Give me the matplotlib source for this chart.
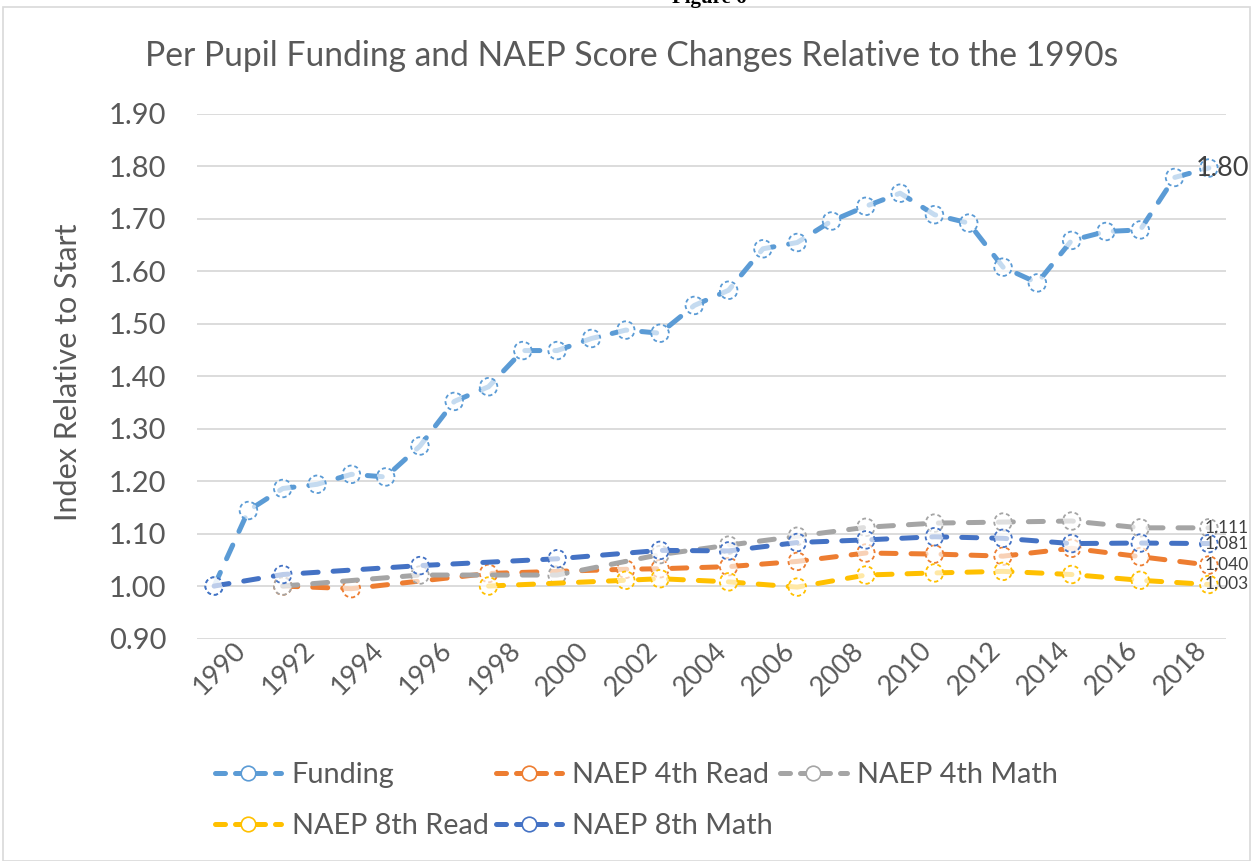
import numpy as np
import matplotlib
matplotlib.use("Agg")
import matplotlib.pyplot as plt
from matplotlib.lines import Line2D
from matplotlib.patches import Rectangle
from matplotlib.transforms import ScaledTranslation

plt.rcParams['font.family'] = ['Lato', 'DejaVu Sans']

# ---------------- data ----------------
years = list(range(1990, 2020))
funding = [1.000, 1.144, 1.186, 1.194, 1.213, 1.208, 1.267, 1.352, 1.380, 1.449,
           1.449, 1.472, 1.488, 1.482, 1.535, 1.564, 1.643, 1.655, 1.696, 1.724,
           1.749, 1.708, 1.692, 1.608, 1.578, 1.659, 1.676, 1.679, 1.779, 1.797]

read4_years = [1992, 1994, 1998, 2002, 2003, 2005, 2007, 2009, 2011, 2013, 2015, 2017, 2019]
read4 = [1.000, 0.995, 1.024, 1.032, 1.033, 1.037, 1.047, 1.063, 1.061, 1.057, 1.072, 1.056, 1.040]

math4_years = [1992, 1996, 2000, 2003, 2005, 2007, 2009, 2011, 2013, 2015, 2017, 2019]
math4 = [1.000, 1.021, 1.021, 1.060, 1.078, 1.095, 1.112, 1.120, 1.122, 1.124, 1.111, 1.111]

read8_years = [1998, 2002, 2003, 2005, 2007, 2009, 2011, 2013, 2015, 2017, 2019]
read8 = [1.000, 1.011, 1.014, 1.008, 0.998, 1.021, 1.025, 1.028, 1.022, 1.011, 1.003]

math8_years = [1990, 1992, 1996, 2000, 2003, 2005, 2007, 2009, 2011, 2013, 2015, 2017, 2019]
math8 = [1.000, 1.022, 1.039, 1.052, 1.068, 1.067, 1.083, 1.088, 1.094, 1.091, 1.081, 1.082, 1.081]

series_names = ["Funding", "NAEP 4th Read", "NAEP 4th Math", "NAEP 8th Read", "NAEP 8th Math"]
series_colors = ["#5B9BD5", "#ED7D31", "#A5A5A5", "#FFC000", "#4472C4"]
label_formats = ["{:.2f}", "{:.3f}", "{:.3f}", "{:.3f}", "{:.3f}"]

title = "Per Pupil Funding and NAEP Score Changes Relative to the 1990s"
caption_top = "Figure 6"
ylabel = "Index Relative to Start"
yticks = [0.90, 1.00, 1.10, 1.20, 1.30, 1.40, 1.50, 1.60, 1.70, 1.80, 1.90]
xtick_years = list(range(1990, 2019, 2))

# ---------------- figure ----------------
W, H = 1253, 861
fig = plt.figure(figsize=(W / 100, H / 100), dpi=100)
ax = fig.add_axes([197 / W, 1 - 638.5 / H, (1226 - 197) / W, (638.5 - 114) / H])

fig.patches.append(Rectangle((3 / W, 0.0), (1250 - 3) / W, 1 - 7 / H, transform=fig.transFigure,
                             fill=False, edgecolor="#d9d9d9", linewidth=1.2))

# caption above the chart, cropped by the top edge as in the source image
fig.text(672 / W, 1 - 3 / H, caption_top, ha='left', va='baseline', fontsize=15,
         fontweight='bold', family=['Liberation Serif', 'DejaVu Serif'], color='black')

all_series = [
    (years, funding),
    (read4_years, read4),
    (math4_years, math4),
    (read8_years, read8),
    (math8_years, math8),
]

text_color = "#595959"
label_sizes = [19.5, 12.5, 12.5, 12.5, 12.5]
label_offsets = [-13, -4, -4, -4, -4]
for i, ((yrs, vals), name, col) in enumerate(zip(all_series, series_names, series_colors)):
    x = np.array(yrs) - years[0]
    z = 3 + i * 2
    ax.plot(x, vals, color=col, lw=3.6, ls=(0, (3, 3)), dash_capstyle='round',
            solid_capstyle='round', zorder=z)
    ax.scatter(x, vals, s=160, facecolors=(1, 1, 1, 0.65), edgecolors=col,
               linewidths=1.3, linestyles=(0, (2.2, 1.6)), zorder=z + 1)
    ax.annotate(label_formats[i].format(vals[-1]), (x[-1], vals[-1]),
                xytext=(label_offsets[i], 0), textcoords='offset pixels', ha='left', va='center',
                fontsize=label_sizes[i], color="#404040", zorder=20, annotation_clip=False)

ax.set_xlim(-0.5, len(years) - 0.5)
ax.set_ylim(0.90, 1.90)
ax.set_yticks(yticks)
ax.set_yticklabels([f"{v:.2f}" for v in yticks])
ax.set_xticks([y - years[0] for y in xtick_years])
ax.set_xticklabels([str(y) for y in xtick_years], rotation=45, ha='center',
                   rotation_mode='default')
ax.tick_params(axis='both', length=0, colors=text_color)
ax.tick_params(axis='y', pad=22, labelsize=21)
ax.tick_params(axis='x', pad=1, labelsize=19.5)
offset = ScaledTranslation(6 / 100, 2 / 100, fig.dpi_scale_trans)
for lbl in ax.get_xticklabels():
    lbl.set_transform(lbl.get_transform() + offset)
ax.grid(axis='y', color="#d9d9d9", lw=1.3)
ax.set_axisbelow(True)
for s in ax.spines.values():
    s.set_visible(False)

fig.text(68 / W, 1 - 372 / H, ylabel, rotation=90, ha='center', va='center',
         fontsize=22, color=text_color)
fig.text(631.5 / W, 1 - 56 / H, title, ha='center', va='center',
         fontsize=24.2, color=text_color)

# legend
handles = []
for name, col in zip(series_names, series_colors):
    handles.append(Line2D([], [], color=col, lw=3.6, ls=(0, (2.0, 2.0)), dash_capstyle='round',
                          marker='o', markersize=10.5, markerfacecolor='white',
                          markeredgecolor=col, markeredgewidth=1.2))
order = [0, 3, 1, 4, 2]
leg = fig.legend([handles[k] for k in order], [series_names[k] for k in order],
                 ncol=3, loc='upper left', bbox_to_anchor=(189 / W, 1 - 736 / H),
                 frameon=False, fontsize=20.8, handlelength=2.3, handletextpad=0.35,
                 columnspacing=0.25, labelspacing=0.86, labelcolor=text_color)

fig.savefig("out.png", dpi=100)
